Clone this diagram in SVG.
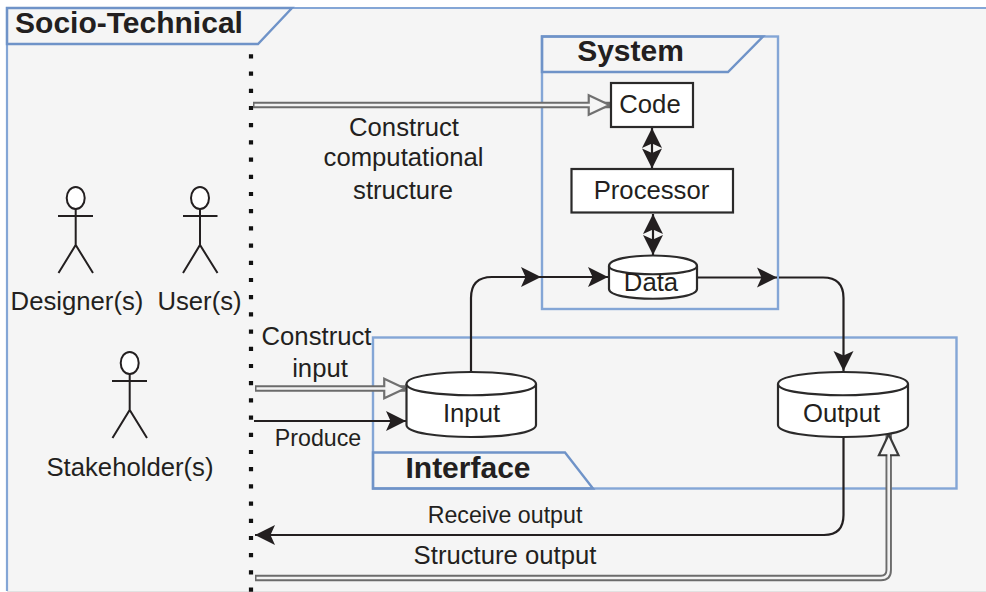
<svg xmlns="http://www.w3.org/2000/svg" width="986" height="592" viewBox="0 0 986 592">
<style>
text{font-family:"Liberation Sans",Arial,sans-serif;fill:#231f20;text-anchor:middle}
.t{font-size:25.7px}
.s{font-size:23.2px}
.b{font-size:30px;font-weight:bold}
.blue{fill:none;stroke:#84a6d6;stroke-width:2.4}
.hdr{fill:none;stroke:#6f93c8;stroke-width:2.4}
.box{fill:#fff;stroke:#2b2a2a;stroke-width:2.2}
.act{fill:none;stroke:#231f20;stroke-width:2}
.head{fill:#fff;stroke:#231f20;stroke-width:2}
.c{fill:none;stroke:#231f20;stroke-width:2.2}
.do{fill:none;stroke:#6b6b6b;stroke-width:6.4;stroke-linejoin:round}
.di{fill:none;stroke:#f2f2f2;stroke-width:2.6;stroke-linejoin:round}
</style>
<defs>
<marker id="a" markerUnits="userSpaceOnUse" markerWidth="22" markerHeight="22" viewBox="-21 -11 22 22" refX="0" refY="0" orient="auto-start-reverse"><path d="M-20,-10 L0,0 L-20,10 L-15.500,0 Z" fill="#231f20"/></marker>
<marker id="o" markerUnits="userSpaceOnUse" markerWidth="24" markerHeight="24" viewBox="-21 -11 22 22" refX="0" refY="0" orient="auto"><path d="M-19.500,-9 L-0.500,0 L-19.500,9 L-19.500,-9 Z" fill="#f5f5f5" stroke="#707070" stroke-width="2"/></marker>
<marker id="o2" markerUnits="userSpaceOnUse" markerWidth="24" markerHeight="24" viewBox="-21 -11 22 22" refX="0" refY="0" orient="auto"><path d="M-19.500,-9 L-0.500,0 L-19.500,9 L-19.500,-9 Z" fill="#f5f5f5" stroke="#3a3a3a" stroke-width="2"/></marker>
</defs>
<rect width="986" height="592" fill="#fff"/>
<g id="socio-technical">
<rect x="7" y="8" width="979" height="583" fill="#f5f5f5"/>
<path d="M986,8 H7 V591" fill="none" stroke="#84a6d6" stroke-width="2.200"/>
<path d="M7,591.500 H986" fill="none" stroke="#e2e2e2" stroke-width="1"/>
<path class="hdr" d="M7,8 H292 L258,44 H7 Z"/>
<text class="b" x="129" y="33">Socio-Technical</text>
</g>
<g id="system">
<rect class="blue" x="542" y="36.500" width="236" height="272.500"/>
<path class="hdr" d="M542,36.500 H763 L728,72 H542 Z"/>
<text class="b" x="630.500" y="61">System</text>
</g>
<g id="interface">
<rect class="blue" x="373" y="337.500" width="583.500" height="151"/>
<path class="hdr" d="M373,452.500 H565 L593,488.500 H373 Z"/>
<text class="b" x="468" y="478">Interface</text>
</g>
<g id="divider"><line x1="251" y1="54.300" x2="251" y2="592" stroke="#111" stroke-width="4.200" stroke-dasharray="4.200 13"/></g>
<g id="connectors">
<path class="do" d="M253,105 H610" marker-end="url(#o)"/><path class="di" d="M254.500,105 H591"/>
<path class="do" d="M255,388.500 H405.500" marker-end="url(#o)"/><path class="di" d="M256.500,388.500 H387"/>
<path class="do" d="M255,578 H881 Q888.700,578 888.700,570 V434" marker-end="url(#o2)"/><path class="di" d="M256.500,578 H881 Q888.700,578 888.700,570 V453"/>
<path class="c" d="M254,421 H406" marker-end="url(#a)"/>
<path class="c" d="M652,128 V168.500" marker-start="url(#a)" marker-end="url(#a)"/>
<path class="c" d="M653,214 V255" marker-start="url(#a)" marker-end="url(#a)"/>
<path class="c" d="M471,372 V298 Q471,277 492,277 H541" marker-end="url(#a)"/>
<path class="c" d="M541,277 H608" marker-end="url(#a)"/>
<path class="c" d="M697,277.500 H777" marker-end="url(#a)"/>
<path class="c" d="M779,277.500 H823 Q843.500,277.500 843.500,298 V371" marker-end="url(#a)"/>
<path class="c" d="M843.500,437 V515 Q843.500,535 824,535 H255" marker-end="url(#a)"/>
</g>
<g id="code"><rect class="box" x="611" y="83" width="82" height="44"/><text class="t" x="650" y="113">Code</text></g>
<g id="processor"><rect class="box" x="571.500" y="169" width="161.500" height="43.500"/><text class="t" x="651.500" y="199">Processor</text></g>
<g id="data"><path class="box" d="M609,266 C609,252 697,252 697,266 V289 C697,302 609,302 609,289 Z"/><path class="box" d="M609,266 C609,277 697,277 697,266" fill="none"/><text class="t" x="651" y="291">Data</text></g>
<g id="input"><path class="box" d="M406.500,384 C406.500,368 536,368 536,384 V425 C536,441 406.500,441 406.500,425 Z"/><path class="box" d="M406.500,384 C406.500,399 536,399 536,384" fill="none"/><text class="t" x="471.500" y="422">Input</text></g>
<g id="output"><path class="box" d="M778,384 C778,368 908,368 908,384 V425 C908,441 778,441 778,425 Z"/><path class="box" d="M778,384 C778,399 908,399 908,384" fill="none"/><text class="t" x="841.500" y="422">Output</text></g>
<g id="designer"><ellipse class="head" cx="75.700" cy="198" rx="9" ry="11"/><path class="act" d="M75.700,209 V245 M58,216 H93 M58.500,273 L75.700,245 L93,273"/><text class="t" x="77" y="310">Designer(s)</text></g>
<g id="user"><ellipse class="head" cx="200" cy="198" rx="9" ry="11"/><path class="act" d="M200,209 V245 M183,216 H217.500 M183,273 L200,245 L217.500,273"/><text class="t" x="199.500" y="310">User(s)</text></g>
<g id="stakeholder"><ellipse class="head" cx="129.700" cy="363" rx="9" ry="11"/><path class="act" d="M129.700,374 V410 M112,381 H147 M112.500,438 L129.700,410 L147,438"/><text class="t" x="130" y="476">Stakeholder(s)</text></g>
<g id="labels">
<text class="t" x="404" y="136">Construct</text>
<text class="t" x="403.500" y="166">computational</text>
<text class="t" x="403" y="199">structure</text>
<text class="t" x="316.500" y="345">Construct</text>
<text class="t" x="320" y="377">input</text>
<text class="s" x="318" y="446">Produce</text>
<text class="s" x="505" y="523">Receive output</text>
<text class="t" x="505" y="564">Structure output</text>
</g>
</svg>
